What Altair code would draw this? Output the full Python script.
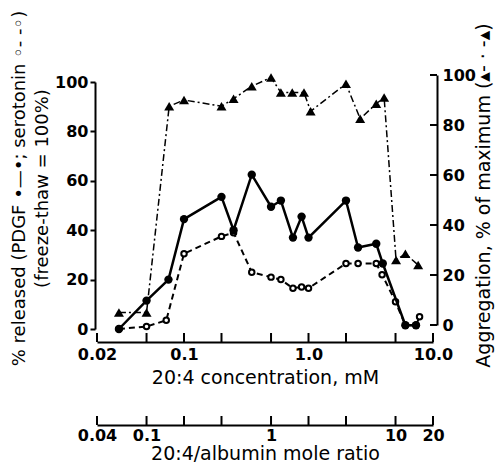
import altair as alt
import pandas as pd

# ---- data ----
conc_pdgf = [0.03, 0.05, 0.075, 0.1, 0.2, 0.25, 0.35, 0.5, 0.6, 0.75, 0.88, 1.0, 2.0, 2.5, 3.5, 3.95, 6.0, 7.3]
pdgf = [0, 11.5, 20, 44.5, 53.5, 40, 62.5, 49.5, 52, 37, 45.5, 37, 52, 33, 34.5, 26.5, 1.5, 1.5]

conc_sero = [0.03, 0.05, 0.072, 0.1, 0.2, 0.25, 0.35, 0.5, 0.6, 0.75, 0.88, 1.0, 2.0, 2.5, 3.5, 3.9, 5.0, 6.0, 7.3, 7.8]
sero = [0, 1, 3.5, 30.5, 37.5, 39, 23, 21, 20, 16.5, 17, 16.5, 26.5, 26.5, 26.5, 22, 11, 1.5, 1.5, 5]

conc_agg = [0.03, 0.05, 0.076, 0.1, 0.2, 0.25, 0.35, 0.5, 0.6, 0.74, 0.92, 1.04, 2.0, 2.6, 3.5, 4.05, 5.05, 6.0, 7.6]
agg = [5, 5, 87.5, 90, 87.5, 90.5, 95.5, 99, 93, 93, 93, 85.5, 96.5, 82.5, 88.5, 91, 26, 28.5, 24]

conc_ticks = [0.02, 0.05, 0.1, 0.2, 0.5, 1, 2, 5, 10]
conc_labels = [0.02, 0.1, 1, 10]
ratio_ticks = [0.04, 0.1, 0.2, 0.4, 1, 2, 4, 10, 20]
ratio_labels = [0.04, 0.1, 1, 10, 20]
pct_ticks = [0, 20, 40, 60, 80, 100]

left_title = ["% released (PDGF \u2022\u2014\u2022; serotonin \u25e6- -\u25e6)", "(freeze-thaw = 100%)"]
right_title = "Aggregation, % of maximum (\u25b4- \u00b7 -\u25b4)"
x_title = "20:4 concentration, mM"
ratio_title = "20:4/albumin mole ratio"

# ---- layout ----
W, H = 336, 254
XOFF, ROFF = 13, 96
TICK = 9

pdgf_df = pd.DataFrame({"conc": conc_pdgf, "val": pdgf})
sero_df = pd.DataFrame({"conc": conc_sero, "val": sero})
agg_df = pd.DataFrame({"conc": conc_agg, "val": agg})
cticks_df = pd.DataFrame({"conc": conc_ticks})
rticks_df = pd.DataFrame({"ratio": ratio_ticks})
pticks_df = pd.DataFrame({"val": pct_ticks})

LBL = dict(labelFont="DejaVu Sans", labelFontWeight="bold", labelFontSize=16, labelColor="black")
TTL = dict(titleFont="DejaVu Sans", titleFontWeight="normal", titleColor="black")
DOM = dict(domainColor="black", domainWidth=2, grid=False)

x_scale = alt.Scale(type="log", domain=[0.02, 10], nice=False)
r_scale = alt.Scale(type="log", domain=[0.04, 20], nice=False)
yl_scale = alt.Scale(domain=[0, 100], range=[H, 7], nice=False)
yr_scale = alt.Scale(domain=[0, 100], range=[H - 4, 0], nice=False)

x_axis = alt.Axis(orient="bottom", offset=XOFF, values=conc_labels,
                  labelExpr="datum.value >= 1 ? format(datum.value, '.1f') : '' + datum.value",
                  ticks=False, labelPadding=4, labelFlush=False, labelOverlap=False,
                  title=x_title, titleFontSize=19, titlePadding=6, **LBL, **TTL, **DOM)
r_axis = alt.Axis(orient="bottom", offset=ROFF, values=ratio_labels,
                  labelExpr="'' + datum.value",
                  ticks=False, labelPadding=2, labelFlush=False, labelOverlap=False,
                  title=ratio_title, titleFontSize=19, titlePadding=1, **LBL, **TTL, **DOM)
yl_axis = alt.Axis(orient="left", offset=2, values=pct_ticks, tickSize=5, tickWidth=2,
                   tickColor="black", labelPadding=2, labelFlush=False,
                   title=left_title, titleFontSize=18, titleLineHeight=23,
                   titlePadding=3, titleY=113, **LBL, **TTL, **DOM)
yr_axis = alt.Axis(orient="right", offset=4, values=pct_ticks, ticks=False,
                   labelPadding=5, labelFlush=False,
                   title=right_title, titleFontSize=19, titleAngle=270, titleBaseline="top",
                   titlePadding=-1, titleY=120, **LBL, **TTL, **DOM)

X = lambda axis=None: alt.X("conc:Q", scale=x_scale, axis=axis)
YL = lambda axis=None: alt.Y("val:Q", scale=yl_scale, axis=axis)
YR = lambda axis=None: alt.Y("val:Q", scale=yr_scale, axis=axis)

agg_line = alt.Chart(agg_df).mark_line(color="black", strokeWidth=1.5, strokeDash=[7, 3, 2, 3]).encode(
    x=X(), y=YR(yr_axis))
agg_pts = alt.Chart(agg_df).mark_point(shape="triangle-up", filled=True, size=100, color="black", opacity=1).encode(
    x=X(), y=YR())
sero_line = alt.Chart(sero_df).mark_line(color="black", strokeWidth=2, strokeDash=[6, 4]).encode(
    x=X(), y=YL())
sero_pts = alt.Chart(sero_df).mark_point(shape="circle", filled=True, fill="white", stroke="black",
                                         strokeWidth=2, size=30, opacity=1).encode(x=X(), y=YL())
pdgf_line = alt.Chart(pdgf_df).mark_line(color="black", strokeWidth=2.5).encode(
    x=X(x_axis), y=YL(yl_axis))
pdgf_pts = alt.Chart(pdgf_df).mark_point(shape="circle", filled=True, size=70, color="black", opacity=1).encode(
    x=X(), y=YL())

x_ticks = alt.Chart(cticks_df).mark_rule(color="black", strokeWidth=2).encode(
    x=X(), y=alt.value(H + XOFF - TICK), y2=alt.value(H + XOFF))
r_ticks = alt.Chart(rticks_df).mark_rule(color="black", strokeWidth=2).encode(
    x=alt.X("ratio:Q", scale=r_scale, axis=r_axis), y=alt.value(H + ROFF - TICK), y2=alt.value(H + ROFF))
y_ticks = alt.Chart(pticks_df).mark_rule(color="black", strokeWidth=2).encode(
    y=YR(), x=alt.value(W + 4 - 7), x2=alt.value(W + 4))

chart = alt.layer(
    agg_line, agg_pts, sero_line, sero_pts, pdgf_line, pdgf_pts, x_ticks, r_ticks, y_ticks
).resolve_scale(x="independent", y="independent").resolve_axis(x="independent", y="independent").properties(
    width=W, height=H,
    padding={"left": 89, "top": 67, "right": 63, "bottom": 134},
    autosize=alt.AutoSizeParams(type="none"),
    background="white",
).configure_view(stroke=None)

chart.save("out.html", embed_options={"renderer": "svg", "actions": False})
